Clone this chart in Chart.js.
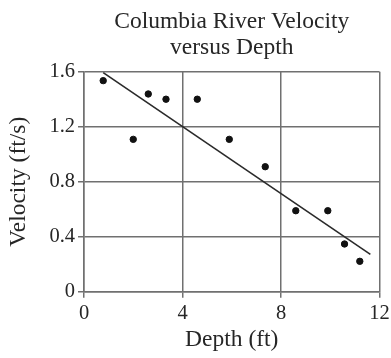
<!DOCTYPE html>
<html>
<head>
<meta charset="utf-8">
<script src="https://cdn.jsdelivr.net/npm/chart.js@4/dist/chart.umd.min.js"></script>
<style>
html,body{margin:0;padding:0;background:#fff;}
#wrap{width:391px;height:358px;}
</style>
</head>
<body>
<div id="wrap"><canvas id="c" width="391" height="358"></canvas></div>
<script>
const depth = [0.78, 2.0, 2.61, 3.33, 4.6, 5.9, 7.36, 8.6, 9.9, 10.58, 11.2];
const velocity = [1.535, 1.108, 1.438, 1.40, 1.40, 1.108, 0.909, 0.589, 0.589, 0.347, 0.221];
const fitX = [0.78, 11.63];
const fitY = [1.593, 0.272];
const xTicks = [0, 4, 8, 12];
const yTicks = [0, 0.4, 0.8, 1.2, 1.6];
const yTickLabels = ['0', '0.4', '0.8', '1.2', '1.6'];

const serif = "'Liberation Serif', 'DejaVu Serif', serif";
const gridColor = '#707070';
const textColor = '#262626';

new Chart(document.getElementById('c'), {
  type: 'scatter',
  data: {
    datasets: [
      {
        data: depth.map((x, i) => ({x: x, y: velocity[i]})),
        backgroundColor: '#111',
        borderColor: '#111',
        pointRadius: 3.2,
        pointHoverRadius: 3.2,
        showLine: false
      },
      {
        data: fitX.map((x, i) => ({x: x, y: fitY[i]})),
        showLine: true,
        borderColor: '#2a2a2a',
        borderWidth: 1.6,
        pointRadius: 0,
        fill: false
      }
    ]
  },
  options: {
    responsive: false,
    animation: false,
    events: [],
    layout: {padding: {left: 0, right: 11.5, top: 0, bottom: 0}},
    plugins: {
      legend: {display: false},
      tooltip: {enabled: false},
      title: {
        display: true,
        fullSize: false,
        text: ['Columbia River Velocity', 'versus Depth'],
        color: textColor,
        font: {family: serif, size: 23.5, weight: 'normal', lineHeight: 26 / 23.5},
        padding: {top: 8.5, bottom: 11.2}
      }
    },
    scales: {
      x: {
        type: 'linear',
        min: 0, max: 12,
        afterBuildTicks: s => { s.ticks = xTicks.map(v => ({value: v})); },
        afterFit: s => { s.height = 66.3; s.paddingRight = 0; s.paddingLeft = 0; },
        ticks: {
          color: textColor,
          font: {family: serif, size: 20.5},
          padding: 4,
          maxRotation: 0
        },
        grid: {color: gridColor, lineWidth: 1.5, tickLength: 6, tickColor: gridColor},
        border: {color: gridColor, width: 1.5},
        title: {
          display: true,
          text: 'Depth (ft)',
          color: textColor,
          font: {family: serif, size: 23.5, lineHeight: 1.2},
          padding: {top: 0, bottom: 4}
        }
      },
      y: {
        type: 'linear',
        min: 0, max: 1.6,
        afterBuildTicks: s => { s.ticks = yTicks.map(v => ({value: v})); },
        afterFit: s => { s.width = 84; },
        ticks: {
          color: textColor,
          font: {family: serif, size: 20.5},
          padding: 3,
          callback: (v) => { const i = yTicks.findIndex(t => Math.abs(t - v) < 1e-6); return i >= 0 ? yTickLabels[i] : ''; }
        },
        grid: {color: gridColor, lineWidth: 1.5, tickLength: 6, tickColor: gridColor},
        border: {color: gridColor, width: 1.5},
        title: {
          display: true,
          text: 'Velocity (ft/s)',
          color: textColor,
          font: {family: serif, size: 23.5, lineHeight: 1.2},
          padding: {top: 5, bottom: 0}
        }
      }
    }
  }
});
</script>
</body>
</html>
